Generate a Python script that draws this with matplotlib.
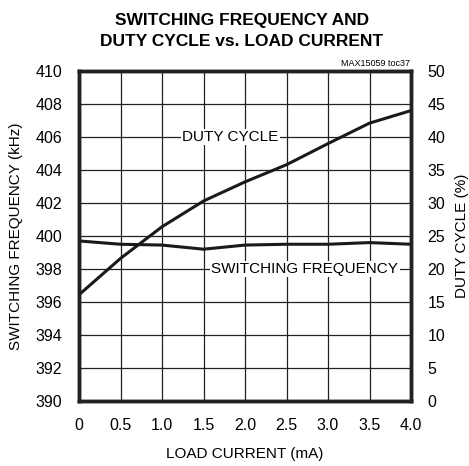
import matplotlib.pyplot as plt

plt.rcParams['font.family'] = 'Liberation Sans'

load_current = [0, 0.5, 1.0, 1.5, 2.0, 2.5, 3.0, 3.5, 4.0]
duty_cycle = [16.1, 21.6, 26.4, 30.3, 33.2, 35.8, 39.0, 42.1, 44.0]
sw_freq = [399.7, 399.5, 399.45, 399.2, 399.45, 399.5, 399.5, 399.6, 399.5]

x_ticks = [0, 0.5, 1.0, 1.5, 2.0, 2.5, 3.0, 3.5, 4.0]
x_labels = ['0', '0.5', '1.0', '1.5', '2.0', '2.5', '3.0', '3.5', '4.0']
left_ticks = [390, 392, 394, 396, 398, 400, 402, 404, 406, 408, 410]
right_ticks = [0, 5, 10, 15, 20, 25, 30, 35, 40, 45, 50]

fig = plt.figure(figsize=(4.69, 4.66), dpi=100)
ax = fig.add_axes([79/469, 1 - 401/466, 332/469, 330/466])
ax2 = ax.twinx()

ax.set_xlim(0, 4)
ax.set_ylim(390, 410)
ax2.set_ylim(0, 50)
ax.set_xticks(x_ticks)
ax.set_xticklabels(x_labels)
ax.set_yticks(left_ticks)
ax2.set_yticks(right_ticks)
ax.grid(True, color='#222222', linewidth=0.9)
ax.set_axisbelow(True)

ax.tick_params(length=0, pad=12, labelsize=11.5)
ax2.tick_params(length=0, pad=12, labelsize=11.5)
for a in (ax, ax2):
    for s in a.spines.values():
        s.set_linewidth(2.5)
        s.set_color('#222222')

ax.plot(load_current, sw_freq, color='#1a1a1a', linewidth=2.2, zorder=3)
ax2.plot(load_current, duty_cycle, color='#1a1a1a', linewidth=2.2, zorder=3)

ax.text(1.82, 406, 'DUTY CYCLE', ha='center', va='center', fontsize=11,
        bbox=dict(facecolor='white', edgecolor='none', pad=1), zorder=2)
ax.text(2.72, 398, 'SWITCHING FREQUENCY', ha='center', va='center', fontsize=11,
        bbox=dict(facecolor='white', edgecolor='none', pad=1), zorder=2)

ax.set_xlabel('LOAD CURRENT (mA)', fontsize=11, labelpad=10)
ax.set_ylabel('SWITCHING FREQUENCY (kHz)', fontsize=11, labelpad=9)
ax2.set_ylabel('DUTY CYCLE (%)', fontsize=11, labelpad=7)

fig.text(242/469, 1 - 31/466, 'SWITCHING FREQUENCY AND\nDUTY CYCLE vs. LOAD CURRENT',
         ha='center', va='center', fontsize=12.5, fontweight='bold', linespacing=1.45)
fig.text(410/469, 1 - 64/466, 'MAX15059 toc37', ha='right', va='center', fontsize=6.5)

fig.savefig('out.png', dpi=100)
